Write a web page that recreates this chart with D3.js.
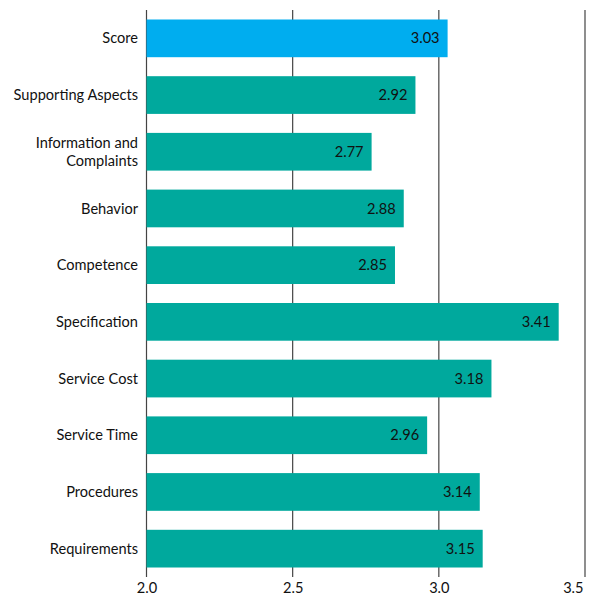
<!DOCTYPE html>
<html><head><meta charset="utf-8">
<script src="https://cdn.jsdelivr.net/npm/d3@7"></script>
<style>body{margin:0;background:#fff}svg{display:block}text{font-family:Lato,"Open Sans",sans-serif}</style>
</head><body>
<svg id="c" width="589" height="597"></svg>
<script>
const categories = [["Score"],["Supporting Aspects"],["Information and","Complaints"],["Behavior"],["Competence"],["Specification"],["Service Cost"],["Service Time"],["Procedures"],["Requirements"]];
const values = [3.03,2.92,2.77,2.88,2.85,3.41,3.18,2.96,3.14,3.15];
const tickValues = [2.0,2.5,3.0,3.5];
const barColors = ["#00ADEF","#00A99D"];

const svg = d3.select("#c");
const x = d3.scaleLinear().domain([2.0,3.5]).range([146.5,585]);
const keys = categories.map(c=>c.join(" "));
const y = d3.scaleBand().domain(keys).range([10,577]).paddingInner(0.335).paddingOuter(0.1675);
const fs = 14.6;

// gridlines
svg.append("g").selectAll("line").data(tickValues).join("line")
  .attr("x1",d=>x(d)).attr("x2",d=>x(d)).attr("y1",10).attr("y2",577)
  .attr("stroke","#444").attr("stroke-width",1.2);

// bars
svg.append("g").selectAll("rect").data(values).join("rect")
  .attr("x",x(2.0)).attr("y",(d,i)=>y(keys[i])).attr("height",y.bandwidth())
  .attr("width",d=>x(d)-x(2.0)).attr("fill",(d,i)=>i===0?barColors[0]:barColors[1]);

// value labels
svg.append("g").selectAll("text").data(values).join("text")
  .attr("x",d=>x(d)-8).attr("y",(d,i)=>y(keys[i])+y.bandwidth()/2).attr("dy","0.35em")
  .attr("text-anchor","end").attr("font-size",fs).attr("fill","#111")
  .text(d=>d.toFixed(2));

// category labels
const cl = svg.append("g").selectAll("text").data(categories).join("text")
  .attr("text-anchor","end").attr("font-size",fs).attr("fill","#111")
  .attr("x",138)
  .attr("y",(d,i)=>y(keys[i])+y.bandwidth()/2);
cl.each(function(d){
  const t=d3.select(this);
  const n=d.length;
  d.forEach((s,j)=>{
    t.append("tspan").attr("x",138).attr("dy", j===0 ? (0.35-(n-1)*0.6)+"em" : "1.2em").text(s);
  });
});

// x axis labels
const ax = d3.axisBottom(x).tickValues(tickValues).tickFormat(d3.format(".1f")).tickSize(0).tickPadding(6);
const g = svg.append("g").attr("transform","translate(0,577)").call(ax);
g.select(".domain").remove();
g.selectAll("text").attr("font-size",fs).attr("fill","#111").style("font-family","Lato,'Open Sans',sans-serif");
g.selectAll(".tick").filter(d=>d===3.5).select("text").attr("text-anchor","end").attr("x",-2);
</script>
</body></html>
